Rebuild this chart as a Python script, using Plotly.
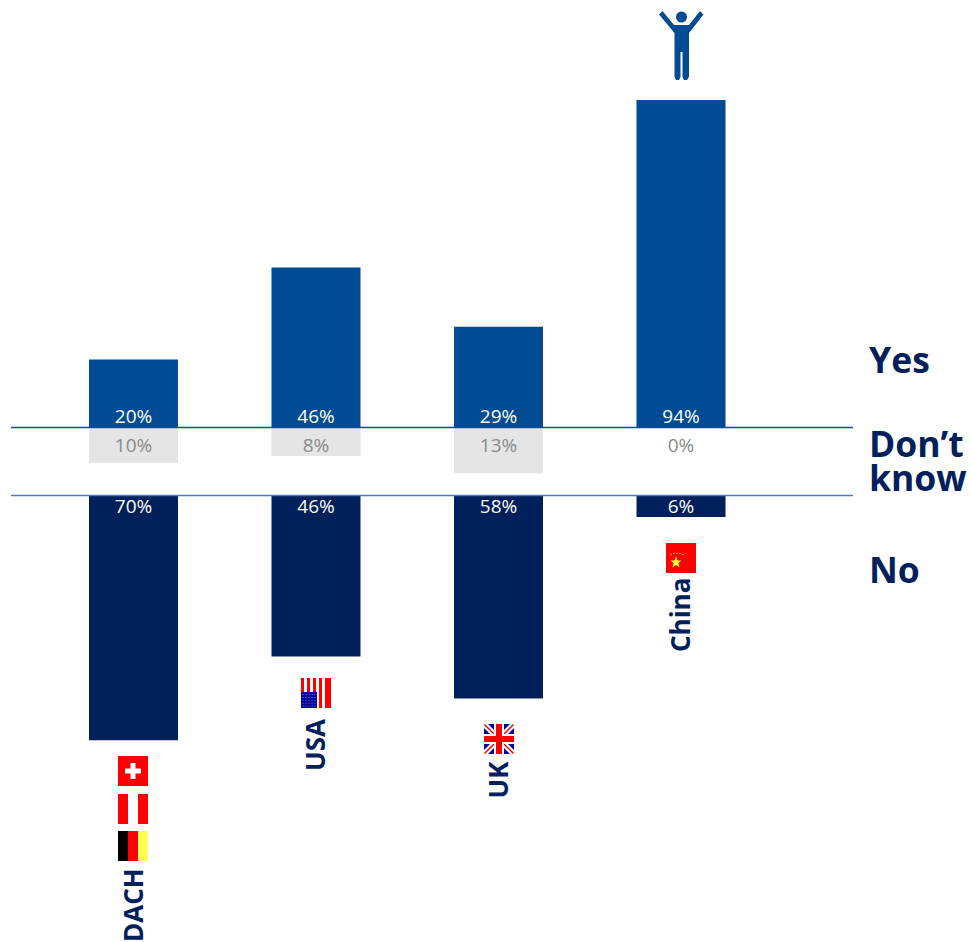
import plotly.graph_objects as go

# ---- data ----
categories = ["DACH", "USA", "UK", "China"]
yes_values = [19.6, 46, 29, 94]
dont_know_values = [10, 8, 13, 0]
no_values = [70, 46, 58, 6]
yes_labels = ["20%", "46%", "29%", "94%"]
dont_know_labels = ["10%", "8%", "13%", "0%"]
no_labels = ["70%", "46%", "58%", "6%"]
legend_labels = ["Yes", "Don’t", "know", "No"]

# ---- style / layout ----
W, H = 971, 942
YES, NO, GREY, GREY_TXT = "#004b93", "#00205b", "#e5e5e5", "#8a8a8a"
FONT = "Open Sans"
X0, DX = 133.5, 182.5      # pixel of first category, pixels per category
Y0, K = 428, 3.49          # pixel of zero line, pixels per percent
NO_BASE = -(496 - Y0) / K
BAR_W = 89 / DX
LINE_SHIFT = 0.5 / K


def px(x):
    return x / W


def py(y):
    return 1 - y / H


shapes = []


def rect(x0, y0, x1, y1, color):
    shapes.append(dict(type="rect", xref="paper", yref="paper", x0=px(x0), x1=px(x1),
                       y0=py(y0), y1=py(y1), fillcolor=color, line_width=0, layer="above"))


def poly(points, color, curve=False):
    d = "M " + " L ".join(f"{px(a):.5f},{py(b):.5f}" for a, b in points) + " Z"
    shapes.append(dict(type="path", xref="paper", yref="paper", path=d, fillcolor=color,
                       line_width=0, layer="above"))


def circle(cx, cy, r, color):
    shapes.append(dict(type="circle", xref="paper", yref="paper", x0=px(cx - r), x1=px(cx + r),
                       y0=py(cy + r), y1=py(cy - r), fillcolor=color, line_width=0, layer="above"))


fig = go.Figure()
fig.add_bar(x=categories, y=yes_values, marker_color=YES, width=BAR_W, marker_line_width=0)
fig.add_bar(x=categories, y=[-v for v in dont_know_values], marker_color=GREY, width=BAR_W, marker_line_width=0)
fig.add_bar(x=categories, y=[-v for v in no_values], base=NO_BASE, marker_color=NO, width=BAR_W, marker_line_width=0)

for labels, row, color in [(yes_labels, 2.8, "white"), (dont_know_labels, -5.4, GREY_TXT),
                           (no_labels, NO_BASE - 3.6, "white")]:
    fig.add_scatter(x=categories, y=[row] * 4, mode="text", text=labels,
                    textfont=dict(family=FONT, size=19, color=color), textposition="middle center")

# zero lines
for yy, col in [(LINE_SHIFT, "#0f4c96"), (NO_BASE + LINE_SHIFT, "#4a7fc0")]:
    shapes.append(dict(type="line", xref="paper", yref="y", x0=px(11), x1=px(853), y0=yy, y1=yy,
                       line=dict(color=col, width=1.5), layer="above"))

# flags: Switzerland
rect(118, 756, 148, 786, "#ff0000")
rect(130.5, 763, 135.5, 779, "white")
rect(125, 768.5, 141, 773.5, "white")
# Austria
rect(118, 794, 128, 824, "#ff0000")
rect(138, 794, 148, 824, "#ff0000")
# Germany
rect(118, 831, 128, 861, "#000000")
rect(128, 831, 138, 861, "#ff0000")
rect(138, 831, 148, 861, "#ffff55")
# USA
for i in range(5):
    rect(301 + i * 6, 678, 304 + i * 6, 708, "#ff0000")
rect(331 - 3, 678, 331, 708, "#ff0000")
rect(301, 692, 317, 708, "#00009a")
for r in range(5):
    for c in range(5):
        circle(303 + c * 3, 694.5 + r * 2.9, 0.55, "#8f8fe0")
# UK
rect(484, 724, 514, 754, "#00009a")
poly([(484, 724), (488, 724), (514, 750), (514, 754), (510, 754), (484, 728)], "white")
poly([(514, 724), (510, 724), (484, 750), (484, 754), (488, 754), (514, 728)], "white")
poly([(484, 725), (485, 724), (514, 753), (513, 754)], "#ff0000")
poly([(513, 724), (514, 725), (485, 754), (484, 753)], "#ff0000")
rect(494, 724, 504, 754, "white")
rect(484, 734, 514, 744, "white")
rect(496, 724, 502, 754, "#ff0000")
rect(484, 736, 514, 742, "#ff0000")
# China
rect(666, 543, 696, 573, "#ff0000")
poly([(676, 556.5), (677.5, 560.5), (681.5, 560.5), (678.5, 563), (679.5, 567.5),
      (676, 565), (672.5, 567.5), (673.5, 563), (670.5, 560.5), (674.5, 560.5)], "#ffff33")
for a, b in [(671, 554.5), (674, 553.5), (677, 553.5), (680, 553.5), (683, 554.5)]:
    circle(a, b, 0.7, "#ffff33")

# person
circle(681.5, 17, 5.5, YES)
poly([(659, 14.5), (662.5, 11), (674, 25), (689, 25), (700, 11), (703.5, 14.5),
      (689, 33), (689, 77), (687, 80), (684, 80), (682.5, 77), (682.5, 52), (680.5, 52),
      (680.5, 77), (679, 80), (676, 80), (674.5, 77), (674.5, 33)], YES)

annotations = []
for i, (name, yc) in enumerate(zip(categories, [905.5, 745, 780, 615])):
    annotations.append(dict(x=i, xref="x", xshift=-1, y=py(yc), yref="paper", text=f"<b>{name}</b>", showarrow=False,
                            textangle=-90, font=dict(family=FONT, size=26, color=NO), xanchor="center", yanchor="middle"))
for text, yc in zip(legend_labels, [359, 443, 477, 569]):
    annotations.append(dict(x=px(866.5), xref="paper", y=py(yc), yref="paper", text=f"<b>{text}</b>", showarrow=False,
                            font=dict(family=FONT, size=35.5, color=NO), xanchor="left", yanchor="middle"))

fig.update_layout(
    width=W, height=H, autosize=False, margin=dict(l=0, r=0, t=0, b=0),
    paper_bgcolor="white", plot_bgcolor="white", showlegend=False, barmode="overlay",
    xaxis=dict(visible=False, type="category", categoryorder="array", categoryarray=categories,
               range=[-X0 / DX, (W - X0) / DX]),
    yaxis=dict(visible=False, range=[-(H - Y0) / K, Y0 / K]),
    shapes=shapes, annotations=annotations,
)
fig.write_html("out.html", config=dict(displayModeBar=False),
               post_script="document.body.style.margin='0';document.body.style.overflow='hidden';")
